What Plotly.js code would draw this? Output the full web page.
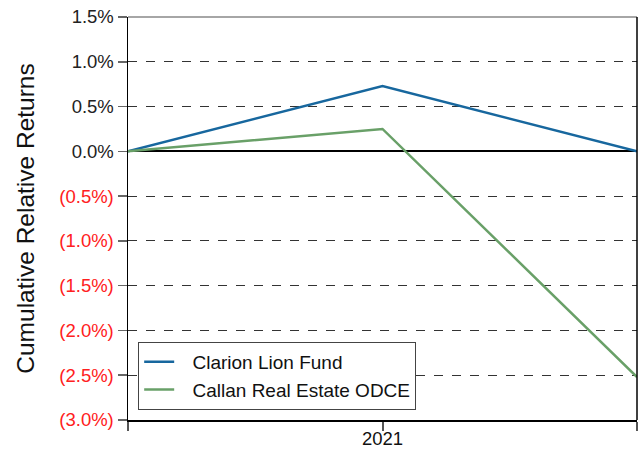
<!DOCTYPE html>
<html>
<head>
<meta charset="utf-8">
<script src="https://cdn.plot.ly/plotly-3.0.1.min.js"></script>
<style>
  html, body { margin: 0; padding: 0; background: #fff; }
  #chart { width: 639px; height: 449px; }
</style>
</head>
<body>
<div id="chart"></div>
<script>
// Period positions along the x axis and their labels
const periodIndex = [0, 1, 2];
const periodLabels = ['', '2021', ''];

// Cumulative relative returns (%)
const clarionLion = [0, 0.73, 0];
const callanOdce = [0, 0.25, -2.52];

// Y axis ticks: negatives shown in red with parentheses
const yTicks = [1.5, 1.0, 0.5, 0.0, -0.5, -1.0, -1.5, -2.0, -2.5, -3.0];
const yTickText = yTicks.map(v => v < 0
  ? '<span style="color:#ff2020">(' + Math.abs(v).toFixed(1) + '%)</span>'
  : v.toFixed(1) + '%');

const font = 'Arial, "Liberation Sans", Helvetica, sans-serif';
const gap = '\u2002\u2009'; // space between legend swatch and label

const traces = [
  { x: periodIndex, y: clarionLion, name: gap + 'Clarion Lion Fund', type: 'scatter', mode: 'lines',
    line: { color: '#17679e', width: 2.5 } },
  { x: periodIndex, y: callanOdce, name: gap + 'Callan Real Estate ODCE', type: 'scatter', mode: 'lines',
    line: { color: '#69a068', width: 2.5 } }
];

const layout = {
  width: 639, height: 449,
  margin: { l: 128, r: 2, t: 17, b: 29, pad: 0 },
  paper_bgcolor: '#fff', plot_bgcolor: '#fff',
  font: { family: font, size: 18, color: '#222' },
  showlegend: true,
  legend: {
    x: 0.02, y: 0.025, xanchor: 'left', yanchor: 'bottom',
    bgcolor: '#fff', bordercolor: '#444', borderwidth: 1,
    font: { family: font, size: 19, color: '#111' },
    tracegroupgap: 0
  },
  xaxis: {
    range: [0, 2], tickmode: 'array', tickvals: periodIndex, ticktext: periodLabels,
    showgrid: false, zeroline: false,
    showline: true, linecolor: '#000', linewidth: 1.5,
    ticks: 'outside', ticklen: 9, tickcolor: '#555', tickwidth: 2,
    ticklabelstandoff: -8,
    tickfont: { family: font, size: 18.5, color: '#111' }
  },
  yaxis: {
    range: [-3, 1.5], tickmode: 'array', tickvals: yTicks, ticktext: yTickText,
    showgrid: true, gridcolor: '#333', gridwidth: 1, griddash: 'dash',
    zeroline: true, zerolinecolor: '#000', zerolinewidth: 2,
    showline: true, linecolor: '#000', linewidth: 1.5,
    ticks: 'outside', ticklen: 9, tickcolor: '#666', tickwidth: 1.5,
    tickfont: { family: font, size: 18.5, color: '#222' },
    automargin: false,
    title: { text: 'Cumulative Relative Returns', font: { family: font, size: 24.5, color: '#111' }, standoff: 17 }
  },
  shapes: [
    { type: 'line', xref: 'paper', yref: 'paper', x0: 0, x1: 1, y0: 1, y1: 1,
      line: { color: '#888', width: 1.5 } },
    { type: 'line', xref: 'paper', yref: 'paper', x0: 1, x1: 1, y0: 0, y1: 1,
      line: { color: '#000', width: 1.5 } }
  ]
};

Plotly.newPlot('chart', traces, layout, { displayModeBar: false, staticPlot: true });
</script>
</body>
</html>
